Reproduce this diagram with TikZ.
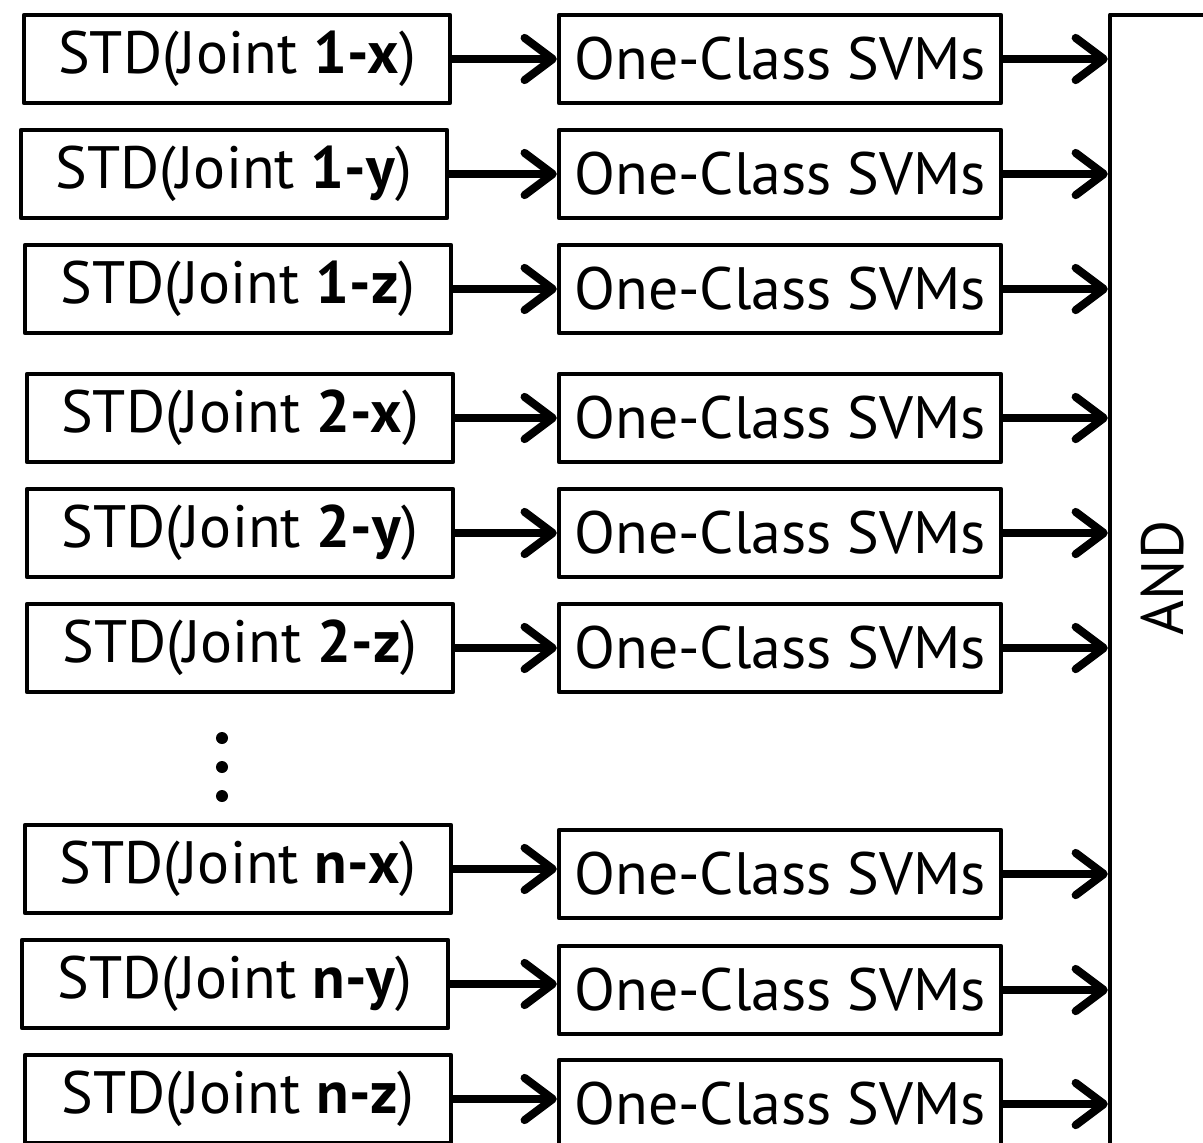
\documentclass[tikz,border=0pt]{standalone}
\usepackage{fontspec}
\setmainfont{PT Sans}
\usetikzlibrary{arrows.meta,positioning}
\begin{document}
\begin{tikzpicture}[x=0.01cm,y=-0.01cm,line join=round,line cap=round,
  font=\fontsize{17}{20}\selectfont,
  box/.style={draw,line width=1.2pt,minimum height=0.88cm,inner sep=0pt},
  feat/.style={box,minimum width=4.26cm},
  svm/.style={box,minimum width=4.42cm},
  flow/.style={line width=2.3pt,-{Straight Barb[round,length=8pt,width=12pt]}}]
\clip (0,0) rectangle (1203,1142);
\node[box,minimum width=1.4cm,minimum height=11.9cm] (and) at (1180,610) {};
\node[rotate=90] (andtext) at (1163,578) {AND};
\foreach \j/\c/\xl/\yl/\yr in {1/x/237/59/59,1/y/234/174/174,1/z/238/289/289,2/x/240/418/418,2/y/240/533/533,2/z/240/648/648,n/x/238/869/874,n/y/235/984/990,n/z/238/1099/1104}{
  \node[feat] (std\j\c) at (\xl,\yl) {STD(Joint \textbf{\j-\c})};
  \node[svm] (svm\j\c) at (780,\yr) {One-Class SVMs};
  \draw[flow] (std\j\c.east) -- (std\j\c.east -| svm\j\c.west);
  \draw[flow] (svm\j\c.east) -- (svm\j\c.east -| and.west);
}
\foreach \d in {738,767,796}
  \fill (222,\d) circle (0.06cm);
\end{tikzpicture}
\end{document}
